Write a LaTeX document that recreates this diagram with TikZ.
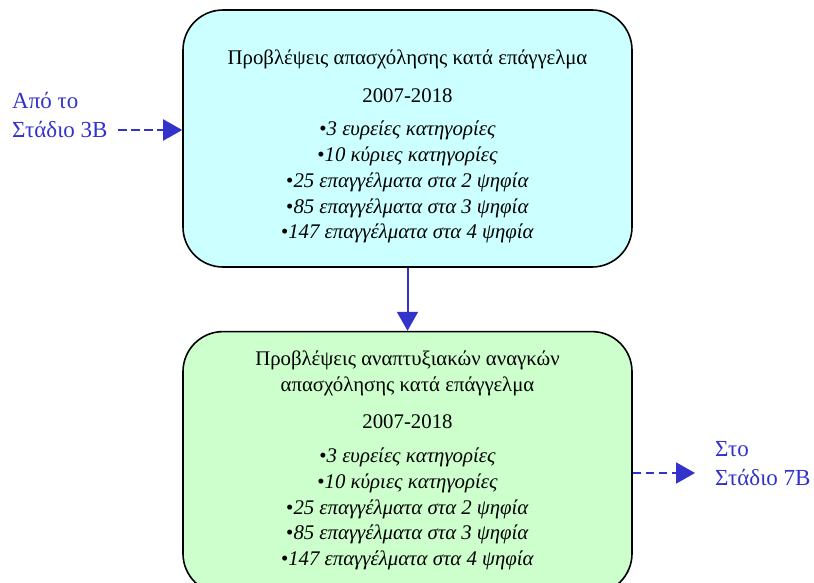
\documentclass[tikz,border=0pt]{standalone}
\usepackage{fontspec}
\setmainfont{Liberation Serif}
\usetikzlibrary{positioning,arrows.meta}
\definecolor{boxcyan}{RGB}{204,255,255}
\definecolor{boxgreen}{RGB}{204,255,204}
\definecolor{flowblue}{RGB}{51,51,204}
\newcommand{\bitem}[1]{\textbullet\textit{#1}}
\begin{document}
\begin{tikzpicture}[x=1pt,y=1pt,node distance = 63pt]
            \tikzset{my box/.style = {draw, rounded corners=40pt, line width=1.6pt, minimum width=449pt}}
            \tikzset{my text/.style = {align=center, inner sep=0pt, font=\fontsize{20.8}{25.7}\selectfont}}
            \tikzset{my edge/.style = {-{Triangle[length=19pt,width=21pt]}, flowblue, line width=2pt}}
            \tikzset{my link/.style = {my edge, dash pattern=on 8.5pt off 4.5pt}}
            \tikzset{my label/.style = {anchor=west, align=left, inner sep=0pt, text=flowblue, font=\fontsize{23}{29}\selectfont}}
            \clip (0,0) rectangle (814,-582);
            \useasboundingbox (0,0) rectangle (814,-582);
            \node[my box, fill=boxcyan, minimum height=257pt] (top) at (407.5,-138.5) {};
            \node[my box, fill=boxgreen, minimum height=262pt] (bottom) [below=of top] {};
            \node[my text] (toptext) at ([yshift=-8pt]top.center) {Προβλέψεις απασχόλησης κατά επάγγελμα\\[12pt]
                2007-2018\\[8pt]
                \bitem{3 ευρείες κατηγορίες}\\
                \bitem{10 κύριες κατηγορίες}\\
                \bitem{25 επαγγέλματα στα 2 ψηφία}\\
                \bitem{85 επαγγέλματα στα 3 ψηφία}\\
                \bitem{147 επαγγέλματα στα 4 ψηφία}};
            \node[my text] (bottomtext) at ([yshift=2pt]bottom.center) {Προβλέψεις αναπτυξιακών αναγκών\\
                απασχόλησης κατά επάγγελμα\\[11pt]
                2007-2018\\[9pt]
                \bitem{3 ευρείες κατηγορίες}\\
                \bitem{10 κύριες κατηγορίες}\\
                \bitem{25 επαγγέλματα στα 2 ψηφία}\\
                \bitem{85 επαγγέλματα στα 3 ψηφία}\\
                \bitem{147 επαγγέλματα στα 4 ψηφία}};
            \node[my label] (fromlabel) at (12,-115) {Από το\\Στάδιο 3B};
            \node[my label] (tolabel) at (715,-464) {Στο\\Στάδιο 7B};
            \coordinate (from) at (118,-130);
            \coordinate (to) at (695,-473);
            \draw[my link] (from) -- (from -| top.west);
            \draw[my edge] (top) -- (bottom);
            \draw[my link] (bottom.east |- to) -- (to);
        \end{tikzpicture}
\end{document}
